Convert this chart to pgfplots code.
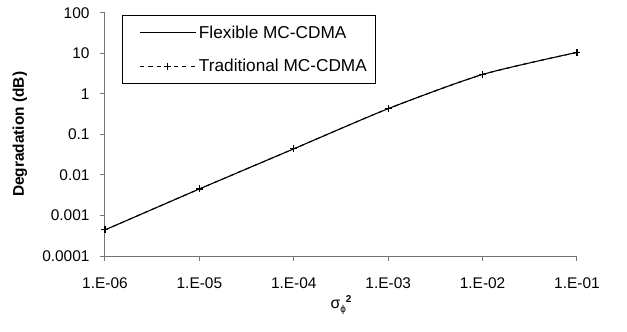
\documentclass[border=0pt]{standalone}
\usepackage{fontspec}
\setmainfont{Liberation Sans}
\usepackage{pgfplots}
\pgfplotsset{compat=1.18}
\begin{document}
\begin{tikzpicture}[x=1bp,y=1bp]
\useasboundingbox (-105bp,-76bp) rectangle (522bp,256bp);
\begin{axis}[
  at={(0,0)}, anchor=south west,
  scale only axis, width=472bp, height=243.3bp,
  xmode=log, ymode=log,
  xmin=1e-6, xmax=1e-1, ymin=1e-4, ymax=100,
  axis x line*=bottom, axis y line*=left,
  axis line style={draw=black!55, line width=1pt},
  every tick/.style={draw=black!55, line width=1pt},
  tick align=outside, major tick length=5bp, minor tick num=0,
  xtick={1e-6,1e-5,1e-4,1e-3,1e-2,1e-1},
  xticklabels={1.E-06,1.E-05,1.E-04,1.E-03,1.E-02,1.E-01},
  ytick={1e-4,1e-3,1e-2,1e-1,1,10,100},
  yticklabels={0.0001,0.001,0.01,0.1,1,10,100},
  log basis x=10, log basis y=10,
  tick label style={font=\fontsize{15.5}{17}\selectfont},
  xticklabel style={yshift=-13bp},
  yticklabel style={xshift=-7bp},
  xlabel={\fontsize{16}{18}\selectfont σ\raisebox{-4bp}{\fontsize{10}{11}\selectfont ϕ}\raisebox{6bp}{\fontsize{10}{11}\selectfont\bfseries 2}},
  xlabel style={at={(axis description cs:0.5,0)}, anchor=north, yshift=-36bp},
  ylabel={\fontsize{15.5}{17}\selectfont\bfseries Degradation (dB)},
  ylabel style={at={([xshift=-85bp]axis description cs:0,0.5)}, anchor=center},
  legend style={at={(0.036,0.99)}, anchor=north west, draw=black, line width=0.8pt,
     font=\fontsize{17.3}{19}\selectfont, row sep=16bp, inner xsep=6.5bp, inner ysep=8bp},
  legend cell align=left,
  legend image code/.code={\path (-10.5bp,0bp) (56.5bp,0bp); \draw[#1, mark repeat=2, mark phase=2] plot coordinates {(0bp,0bp) (28bp,0bp) (56bp,0bp)};},
  clip=false,
]
\addplot[black, line width=1.1pt, smooth, tension=0.4] coordinates {
(1e-6,0.00044) (1e-5,0.0045) (1e-4,0.044) (1e-3,0.43) (1e-2,3.0) (1e-1,10.5)};
\addlegendentry{Flexible MC-CDMA}
\addplot[black, line width=1.1pt, dash pattern=on 4bp off 4.5bp, smooth, tension=0.4,
  mark=+, mark size=3.5bp, mark options={solid, line width=1.1pt}] coordinates {
(1e-6,0.00044) (1e-5,0.0045) (1e-4,0.044) (1e-3,0.43) (1e-2,3.0) (1e-1,10.5)};
\addlegendentry{Traditional MC-CDMA}
\end{axis}
\end{tikzpicture}
\end{document}
